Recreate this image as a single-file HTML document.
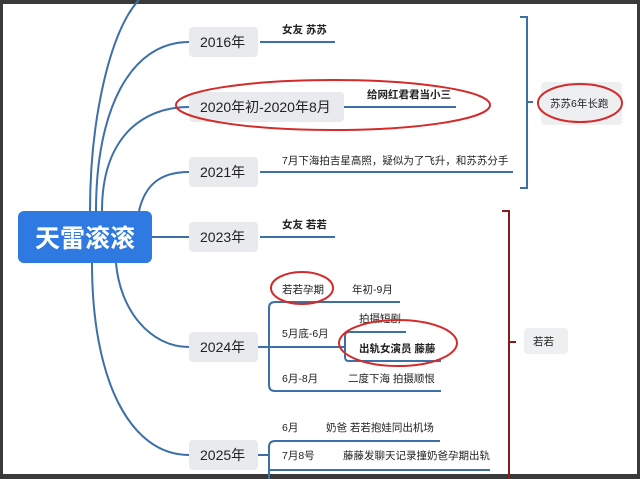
<!DOCTYPE html>
<html><head><meta charset="utf-8"><style>
html,body{margin:0;padding:0;background:#3a3a3a;}
svg{display:block;}
text{font-family:"Liberation Sans","Noto Sans CJK SC",sans-serif;fill:#222;}
</style></head><body>
<svg width="640" height="479" viewBox="0 0 640 479">
<rect x="0" y="0" width="640" height="479" fill="#3a3a3a"/>
<rect x="3" y="4" width="634" height="470" fill="#fff"/>
<g fill="none" stroke="#3d6fa8" stroke-width="2">
<path d="M90 211 C90 120 110 30 139 0"/>
<path d="M96 211 C96 110 130 42 189 42"/>
<path d="M102 211 C102 140 140 107 189 107"/>
<path d="M139 211 C145 185 160 172 189 172"/>
<path d="M152 237 L189 237"/>
<path d="M116 263 C120 310 150 347 189 347"/>
<path d="M92 263 C92 380 130 455 189 455"/>
<path d="M260 42 H335"/>
<path d="M344 107 H456"/>
<path d="M260 172 H513"/>
<path d="M260 237 H335"/>
<path d="M258 347 H345"/>
<path d="M400 302 H275 Q269 302 269 308 V385 Q269 391 275 391 H441"/>
<path d="M406 332 H349 Q345 332 345 336 V357 Q345 361 349 361 H441"/>
<path d="M258 455 H269"/>
<path d="M440 441 H275 Q269 441 269 447 V479"/>
<path d="M269 470 H490"/>
<path d="M520 17 H527 V188 H520 M527 102 H533"/>
</g>
<g fill="none" stroke="#8b1a1a" stroke-width="2">
<path d="M502 211 H509 V479 M509 342 H516"/>
</g>
<rect x="18" y="211" width="134" height="52" rx="6" fill="#2f7ae0"/>
<text x="85" y="247" text-anchor="middle" font-size="25" font-weight="bold" style="fill:#fff">天雷滚滚</text>
<g fill="#e9eaed">
<rect x="189" y="27" width="69" height="30" rx="4"/>
<rect x="189" y="92" width="155" height="30" rx="4"/>
<rect x="189" y="157" width="69" height="30" rx="4"/>
<rect x="189" y="222" width="69" height="30" rx="4"/>
<rect x="189" y="332" width="69" height="30" rx="4"/>
<rect x="189" y="440" width="69" height="30" rx="4"/>
<rect x="541" y="82" width="81" height="43" rx="4" fill="#eeeff1"/>
<rect x="524" y="328" width="44" height="26" rx="4" fill="#eeeff1"/>
</g>
<g font-size="14">
<text x="200" y="47">2016年</text>
<text x="200" y="112">2020年初-2020年8月</text>
<text x="200" y="177">2021年</text>
<text x="200" y="242">2023年</text>
<text x="200" y="352">2024年</text>
<text x="200" y="460">2025年</text>
</g>
<g font-size="10.5">
<text x="282" y="33" font-weight="bold">女友 苏苏</text>
<text x="367" y="98" font-weight="bold">给网红君君当小三</text>
<text x="282" y="164">7月下海拍吉星高照，疑似为了飞升，和苏苏分手</text>
<text x="282" y="228" font-weight="bold">女友 若若</text>
<text x="550" y="107">苏苏6年长跑</text>
<text x="533" y="345">若若</text>
<text x="282" y="293">若若孕期</text>
<text x="352" y="293">年初-9月</text>
<text x="282" y="337">5月底-6月</text>
<text x="359" y="322">拍摄短剧</text>
<text x="359" y="352" font-weight="bold">出轨女演员 藤藤</text>
<text x="282" y="382">6月-8月</text>
<text x="348" y="382">二度下海 拍摄顺恨</text>
<text x="282" y="431">6月</text>
<text x="326" y="431">奶爸 若若抱娃同出机场</text>
<text x="282" y="459">7月8号</text>
<text x="343" y="459">藤藤发聊天记录撞奶爸孕期出轨</text>
</g>
<g fill="none" stroke="#d42a2a" stroke-width="2">
<ellipse cx="333" cy="105" rx="157" ry="25"/>
<ellipse cx="580" cy="103" rx="42" ry="19"/>
<ellipse cx="302" cy="288" rx="31" ry="16"/>
<ellipse cx="398" cy="343" rx="59" ry="23"/>
</g>
</svg>
</body></html>
